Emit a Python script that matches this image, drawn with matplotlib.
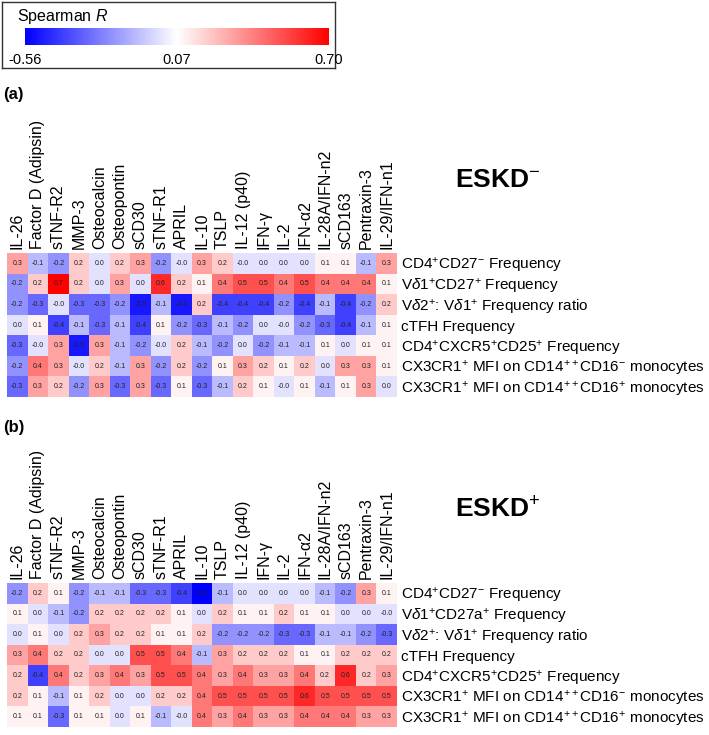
import numpy as np
import matplotlib
matplotlib.use('Agg')
import matplotlib.pyplot as plt
from matplotlib.colors import LinearSegmentedColormap, Normalize
from matplotlib.cm import ScalarMappable

plt.rcParams['font.family'] = ['Liberation Sans', 'DejaVu Sans']
plt.rcParams['mathtext.fontset'] = 'custom'
plt.rcParams['mathtext.rm'] = 'Liberation Sans'
plt.rcParams['mathtext.it'] = 'Liberation Sans:italic'
plt.rcParams['mathtext.bf'] = 'Liberation Sans:bold'

# analytes (columns)
analytes = ['IL-26', 'Factor D (Adipsin)', 'sTNF-R2', 'MMP-3', 'Osteocalcin',
            'Osteopontin', 'sCD30', 'sTNF-R1', 'APRIL', 'IL-10', 'TSLP',
            'IL-12 (p40)', 'IFN-γ', 'IL-2', 'IFN-α2', 'IL-28A/IFN-n2',
            'sCD163', 'Pentraxin-3', 'IL-29/IFN-n1']

# cell populations (rows)
cells_neg = [r'CD4$^{+}$CD27$^{-}$ Frequency',
             r'V$\delta$1$^{+}$CD27$^{+}$ Frequency',
             r'V$\delta$2$^{+}$: V$\delta$1$^{+}$ Frequency ratio',
             'cTFH Frequency',
             r'CD4$^{+}$CXCR5$^{+}$CD25$^{+}$ Frequency',
             r'CX3CR1$^{+}$ MFI on CD14$^{++}$CD16$^{-}$ monocytes',
             r'CX3CR1$^{+}$ MFI on CD14$^{++}$CD16$^{+}$ monocytes']
cells_pos = [r'CD4$^{+}$CD27$^{-}$ Frequency',
             r'V$\delta$1$^{+}$CD27a$^{+}$ Frequency',
             r'V$\delta$2$^{+}$: V$\delta$1$^{+}$ Frequency ratio',
             'cTFH Frequency',
             r'CD4$^{+}$CXCR5$^{+}$CD25$^{+}$ Frequency',
             r'CX3CR1$^{+}$ MFI on CD14$^{++}$CD16$^{-}$ monocytes',
             r'CX3CR1$^{+}$ MFI on CD14$^{++}$CD16$^{+}$ monocytes']

# Spearman R, ESKD-
r_neg = [
    [0.3, -0.1, -0.2, 0.2, 0.0, 0.2, 0.3, -0.2, -0.0, 0.3, 0.2, -0.0, 0.0, 0.0, 0.0, 0.1, 0.1, -0.1, 0.3],
    [-0.2, 0.2, 0.7, 0.2, 0.0, 0.3, 0.0, 0.6, 0.2, 0.1, 0.4, 0.5, 0.5, 0.4, 0.5, 0.4, 0.4, 0.4, 0.1],
    [-0.2, -0.3, -0.0, -0.3, -0.3, -0.2, -0.5, -0.1, -0.5, 0.2, -0.4, -0.4, -0.4, -0.2, -0.4, -0.1, -0.4, -0.2, 0.2],
    [0.0, 0.1, -0.4, -0.1, -0.3, -0.1, -0.4, 0.1, -0.2, -0.3, -0.1, -0.2, 0.0, -0.0, -0.2, -0.3, -0.4, -0.1, 0.1],
    [-0.3, -0.0, 0.3, -0.5, 0.3, -0.1, -0.2, -0.0, 0.2, -0.1, -0.2, 0.0, -0.2, -0.1, -0.1, 0.1, 0.0, 0.1, 0.1],
    [-0.2, 0.4, 0.3, -0.0, 0.2, -0.1, 0.3, -0.2, 0.2, -0.2, 0.1, 0.3, 0.2, 0.1, 0.2, 0.0, 0.3, 0.3, 0.1],
    [-0.3, 0.3, 0.2, -0.2, 0.3, -0.3, 0.3, -0.3, 0.1, -0.3, -0.1, 0.2, 0.1, -0.0, 0.1, -0.1, 0.1, 0.3, 0.0],
]

# Spearman R, ESKD+
r_pos = [
    [-0.2, 0.2, 0.1, -0.2, -0.1, -0.1, -0.3, -0.3, -0.4, -0.6, -0.1, 0.0, 0.0, 0.0, 0.0, -0.1, -0.2, 0.3, 0.1],
    [0.1, 0.0, -0.1, -0.2, 0.2, 0.2, 0.2, 0.2, 0.1, 0.0, 0.2, 0.1, 0.1, 0.2, 0.1, 0.1, 0.0, 0.0, -0.0],
    [0.0, 0.1, 0.0, 0.2, 0.3, 0.2, 0.2, 0.1, 0.1, 0.2, -0.2, -0.2, -0.2, -0.3, -0.3, -0.1, -0.1, -0.2, -0.3],
    [0.3, 0.4, 0.2, 0.2, 0.0, 0.0, 0.5, 0.5, 0.4, -0.1, 0.3, 0.2, 0.2, 0.2, 0.1, 0.1, 0.2, 0.2, 0.2],
    [0.2, -0.4, 0.4, 0.2, 0.3, 0.4, 0.3, 0.5, 0.5, 0.4, 0.3, 0.4, 0.3, 0.3, 0.4, 0.2, 0.6, 0.2, 0.3],
    [0.2, 0.1, -0.1, 0.1, 0.2, 0.0, 0.0, 0.2, 0.2, 0.4, 0.5, 0.5, 0.5, 0.5, 0.6, 0.5, 0.5, 0.5, 0.5],
    [0.1, 0.1, -0.3, 0.1, 0.1, 0.0, 0.1, -0.1, -0.0, 0.4, 0.3, 0.4, 0.3, 0.3, 0.4, 0.4, 0.4, 0.3, 0.3],
]

r_min, r_mid, r_max = -0.56, 0.07, 0.70

cmap = LinearSegmentedColormap.from_list('spearman', ['#0000ff', '#ffffff', '#ff0000'])
norm = Normalize(r_min, r_max)

W, H = 709, 735
fig = plt.figure(figsize=(W / 100, H / 100), dpi=100)


def px_axes(x0, y0, x1, y1):
    # axes from pixel box, y measured from the top
    return fig.add_axes([x0 / W, 1 - y1 / H, (x1 - x0) / W, (y1 - y0) / H])


def draw_heatmap(ax, vals, rows, group, label_y):
    data = np.array(vals)
    ax.imshow(data, cmap=cmap, norm=norm, aspect='auto', interpolation='nearest')
    for i in range(data.shape[0]):
        for j in range(data.shape[1]):
            ax.text(j, i, f'{data[i, j]:.1f}', ha='center', va='center',
                    fontsize=5, color='#222222')
    ax.xaxis.tick_top()
    ax.set_xticks(range(len(analytes)))
    ax.set_xticklabels(analytes, rotation=90, fontsize=11.5)
    ax.yaxis.tick_right()
    ax.set_yticks(range(len(rows)))
    ax.set_yticklabels(rows, fontsize=11)
    ax.tick_params(length=0, pad=3)
    for s in ax.spines.values():
        s.set_visible(False)
    fig.text(455 / W, 1 - label_y / H, 'ESKD' + group, fontsize=19,
             fontweight='bold', va='center', ha='left')


# colour key
box = px_axes(2, 2, 335, 68)
box.set_xticks([])
box.set_yticks([])
for s in box.spines.values():
    s.set_linewidth(1)
    s.set_color('#333333')
fig.text(17 / W, 1 - 17 / H, 'Spearman $R$', fontsize=11.5, va='center')
cax = px_axes(25, 28, 329, 45)
cb = fig.colorbar(ScalarMappable(norm=norm, cmap=cmap), cax=cax,
                  orientation='horizontal', ticks=[r_min, r_mid, r_max])
cb.ax.set_xticklabels(['-0.56', '0.07', '0.70'], fontsize=10.5)
cb.ax.tick_params(length=0, pad=6)
cb.outline.set_visible(False)

fig.text(3 / W, 1 - 95 / H, '(a)', fontsize=12, fontweight='bold', va='center')
fig.text(3 / W, 1 - 427 / H, '(b)', fontsize=12, fontweight='bold', va='center')

ax_a = px_axes(7, 253, 397, 397)
draw_heatmap(ax_a, r_neg, cells_neg, '$^{-}$', 180)

ax_b = px_axes(7, 583, 397, 727)
draw_heatmap(ax_b, r_pos, cells_pos, '$^{+}$', 510)

fig.savefig('out.png', dpi=100)
